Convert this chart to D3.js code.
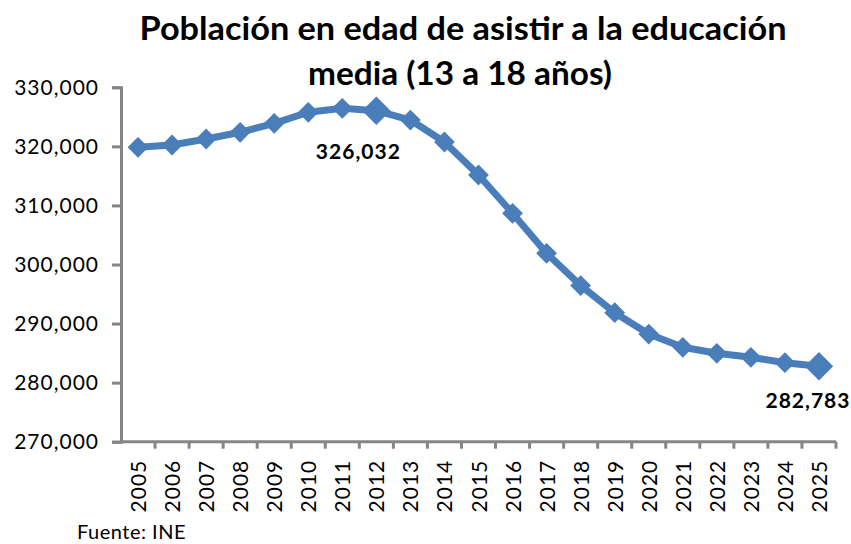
<!DOCTYPE html>
<html><head><meta charset="utf-8">
<script src="https://cdn.jsdelivr.net/npm/d3@7"></script>
<style>
html,body{margin:0;padding:0;background:#fff;}
svg{display:block;}
</style></head>
<body>
<script>
const years = ["2005","2006","2007","2008","2009","2010","2011","2012","2013","2014","2015","2016","2017","2018","2019","2020","2021","2022","2023","2024","2025"];
const population = [319840,320230,321250,322380,323900,325770,326440,326032,324460,320740,315150,308670,301900,296440,291840,288230,285980,284970,284290,283370,282783];
const yTicks = [270000,280000,290000,300000,310000,320000,330000];
const highlighted = ["2012","2025"];
const titleLines = ["Población en edad de asistir a la educación","media (13 a 18 años)"];
const sourceText = "Fuente: INE";

const W = 851, H = 544;
const svg = d3.select("body").append("svg").attr("width", W).attr("height", H);
const font = "Lato, 'Open Sans', sans-serif";

const x = d3.scaleBand().domain(years).range([121, 836]);
const y = d3.scaleLinear().domain([270000, 330000]).range([441.7, 87.3]);

// title
const titleLen = [647, 304];
const titleBase = [40, 85];
const titleCx = [463, 460];
titleLines.forEach((t, i) => {
  svg.append("text").attr("x", titleCx[i]).attr("y", titleBase[i])
    .attr("text-anchor", "middle").attr("font-family", font).attr("font-weight", "bold")
    .attr("font-size", 33).attr("fill", "#000")
    .attr("textLength", titleLen[i]).attr("lengthAdjust", "spacingAndGlyphs")
    .text(t);
});

// y axis
const yAxis = d3.axisLeft(y).tickValues(yTicks).tickSize(9).tickPadding(13)
  .tickFormat(d3.format(","));
const gy = svg.append("g").attr("transform", "translate(121,0)").call(yAxis);
gy.select(".domain").attr("stroke", "#868686").attr("stroke-width", 3);
gy.selectAll(".tick line").attr("stroke", "#868686").attr("stroke-width", 3);
gy.selectAll(".tick text").attr("font-family", font).attr("font-size", 21)
  .attr("letter-spacing", 1).attr("fill", "#000").attr("dy", "0.34em");

// x axis (ticks between categories)
const gx = svg.append("g").attr("transform", "translate(0,441.7)");
gx.append("line").attr("x1", 121).attr("x2", 836).attr("y1", 0).attr("y2", 0)
  .attr("stroke", "#868686").attr("stroke-width", 3);
const bounds = years.map(d => x(d)).concat([x.range()[1]]);
gx.selectAll("line.tk").data(bounds.slice(1)).join("line").attr("class", "tk")
  .attr("x1", d => d).attr("x2", d => d).attr("y1", 0).attr("y2", 7)
  .attr("stroke", "#868686").attr("stroke-width", 3);
gx.selectAll("text").data(years).join("text")
  .attr("transform", d => `translate(${x(d) + x.bandwidth() / 2 + 8},18) rotate(-90)`)
  .attr("text-anchor", "end").attr("font-family", font).attr("font-size", 21)
  .attr("letter-spacing", 1).attr("fill", "#000").text(d => d);

// line
const cx = d => x(d) + x.bandwidth() / 2;
const data = years.map((yr, i) => ({yr, v: population[i]}));
svg.append("path").datum(data)
  .attr("d", d3.line().x(d => cx(d.yr)).y(d => y(d.v)))
  .attr("fill", "none").attr("stroke", "#4A7EBB").attr("stroke-width", 7)
  .attr("stroke-linejoin", "round");

// markers
svg.selectAll("path.mk").data(data).join("path").attr("class", "mk")
  .attr("transform", d => `translate(${cx(d.yr)},${y(d.v)}) rotate(45)`)
  .attr("d", d => { const s = highlighted.includes(d.yr) ? 9.3 : 6.6; return `M${-s},${-s}H${s}V${s}H${-s}Z`; })
  .attr("fill", "#4A7EBB").attr("stroke", "#4A7EBB").attr("stroke-width", 1.5);

// data labels
const labelOffsets = {"2012": [-18, 48], "2025": [-11, 42]};
svg.selectAll("text.lbl").data(data.filter(d => highlighted.includes(d.yr))).join("text")
  .attr("class", "lbl")
  .attr("x", d => cx(d.yr) + labelOffsets[d.yr][0])
  .attr("y", d => y(d.v) + labelOffsets[d.yr][1])
  .attr("text-anchor", "middle").attr("font-family", font).attr("font-weight", "bold")
  .attr("font-size", 21).attr("letter-spacing", 1).attr("fill", "#000")
  .text(d => d3.format(",")(d.v));

// source
svg.append("text").attr("x", 77).attr("y", 539).attr("font-family", font)
  .attr("font-size", 20).attr("letter-spacing", 0.5).attr("fill", "#000").text(sourceText);
</script>
</body></html>
